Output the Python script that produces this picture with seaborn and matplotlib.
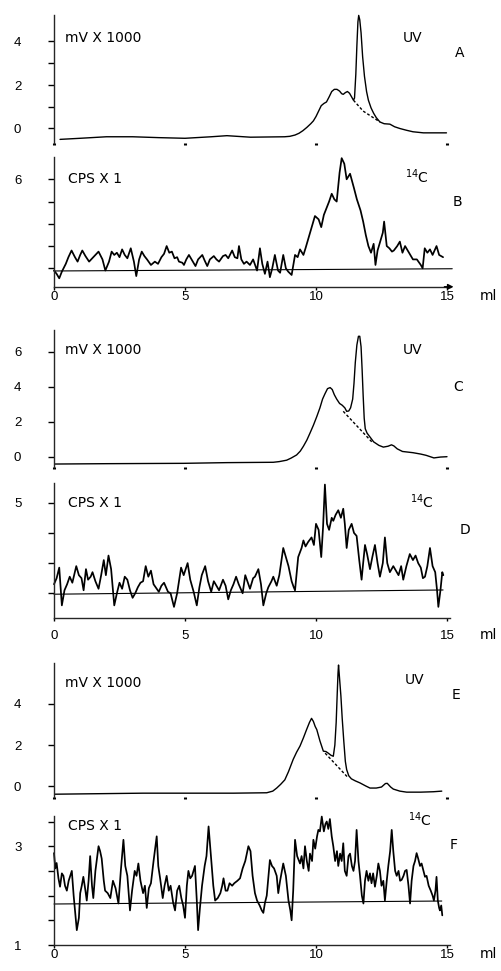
import numpy as np
import pandas as pd
import matplotlib
matplotlib.use("Agg")
import matplotlib.pyplot as plt
import seaborn as sns

sns.set_style("ticks")
plt.rcParams['font.family'] = ['Liberation Sans', 'DejaVu Sans']
plt.rcParams['mathtext.default'] = 'regular'

# ---------------- data (ml, signal) ----------------
# Panel A (UV, mV x 1000)
a_ml = [0.23, 1.0, 2.0, 3.0, 4.0, 5.0, 6.0, 6.6, 7.5, 8.8, 9.0, 9.2, 9.35, 9.5, 9.65, 9.8,
        9.9, 10.0, 10.1, 10.2, 10.3, 10.4, 10.5, 10.6, 10.7, 10.8, 10.9, 10.98, 11.04, 11.12,
        11.2, 11.28, 11.36, 11.43, 11.47, 11.52, 11.56, 11.6, 11.63, 11.67, 11.72, 11.78,
        11.85, 11.93, 12.0, 12.1, 12.2, 12.3, 12.44, 12.6, 12.82, 13.0, 13.2, 13.45, 13.7,
        14.1, 14.98]
a_v = [-0.5, -0.45, -0.38, -0.38, -0.42, -0.45, -0.38, -0.33, -0.4, -0.38, -0.36, -0.3,
       -0.22, -0.1, 0.05, 0.22, 0.35, 0.55, 0.8, 1.05, 1.15, 1.22, 1.45, 1.7, 1.8, 1.8, 1.72,
       1.6, 1.57, 1.65, 1.7, 1.62, 1.45, 1.3, 1.4, 2.5, 3.8, 4.9, 5.2, 5.0, 4.4, 3.3, 2.4,
       1.7, 1.3, 0.95, 0.7, 0.5, 0.3, 0.22, 0.2, 0.08, 0.0, -0.08, -0.15, -0.2, -0.2]
a_dash_ml = [11.43, 11.8, 12.44]
a_dash_v = [1.3, 0.8, 0.3]

# Panel B (14C, CPS x 1)
b_ml = [0.0, 0.1, 0.2, 0.3, 0.45, 0.55, 0.67, 0.8, 0.9, 1.0, 1.08, 1.2, 1.34, 1.5, 1.7, 1.85,
        1.96, 2.1, 2.2, 2.3, 2.4, 2.5, 2.6, 2.7, 2.8, 2.93, 3.05, 3.14, 3.25, 3.35, 3.45, 3.55,
        3.7, 3.85, 3.97, 4.1, 4.2, 4.3, 4.4, 4.5, 4.6, 4.7, 4.77, 4.9, 4.96, 5.05, 5.15, 5.3,
        5.4, 5.5, 5.66, 5.75, 5.85, 5.95, 6.1, 6.2, 6.3, 6.45, 6.55, 6.65, 6.8, 6.9, 7.0, 7.06,
        7.15, 7.25, 7.35, 7.48, 7.6, 7.75, 7.86, 7.95, 8.05, 8.15, 8.24, 8.33, 8.43, 8.55, 8.63,
        8.75, 8.85, 8.94, 9.07, 9.2, 9.3, 9.39, 9.52, 9.6, 9.7, 9.85, 9.96, 10.1, 10.2, 10.3,
        10.4, 10.5, 10.6, 10.7, 10.79, 10.9, 10.98, 11.08, 11.17, 11.3, 11.45, 11.56, 11.7,
        11.8, 11.9, 12.0, 12.1, 12.2, 12.27, 12.35, 12.45, 12.55, 12.6, 12.7, 12.8, 12.9,
        12.97, 13.1, 13.2, 13.3, 13.4, 13.5, 13.6, 13.7, 13.85, 14.0, 14.07, 14.15, 14.25,
        14.35, 14.45, 14.6, 14.7, 14.85]
b_v = [1.9, 1.75, 1.55, 1.85, 2.2, 2.5, 2.8, 2.5, 2.3, 2.6, 2.8, 2.55, 2.3, 2.5, 2.75, 2.4,
       1.9, 2.3, 2.75, 2.6, 2.7, 2.5, 2.85, 2.6, 2.45, 2.9, 2.3, 1.65, 2.4, 2.75, 2.55, 2.4,
       2.15, 2.3, 2.2, 2.5, 2.65, 3.0, 2.7, 2.75, 2.45, 2.5, 2.3, 2.25, 2.15, 2.4, 2.6, 2.3,
       2.1, 2.4, 2.6, 2.35, 2.1, 2.4, 2.55, 2.4, 2.3, 2.55, 2.6, 2.45, 2.8, 2.5, 2.45, 3.0,
       2.4, 2.2, 2.3, 2.15, 2.4, 1.9, 2.9, 2.2, 1.75, 2.3, 1.6, 2.0, 2.6, 1.9, 1.8,
       2.6, 2.0, 1.85, 1.7, 2.6, 2.5, 2.85, 2.6, 2.9, 3.3, 3.9, 4.35, 4.2, 3.85, 4.4,
       4.7, 5.0, 5.35, 5.1, 5.0, 6.3, 6.95, 6.7, 6.0, 6.25, 5.6, 5.1, 4.6,
       4.1, 3.5, 3.0, 2.7, 3.1, 2.15, 2.8, 3.2, 3.6, 4.1, 3.0, 2.9, 2.75,
       2.8, 3.0, 3.2, 2.7, 3.0, 2.8, 2.6, 2.4, 2.4, 2.15, 2.0, 2.9, 2.7,
       2.85, 2.6, 3.0, 2.6, 2.5]
b_base_ml = [0.0, 15.2]
b_base_v = [1.88, 1.98]

# Panel C (UV)
c_ml = [0.04, 2.0, 4.94, 6.6, 8.37, 8.6, 8.88, 9.05, 9.26, 9.4, 9.52, 9.65, 9.77, 9.9, 10.03,
        10.15, 10.25, 10.34, 10.44, 10.54, 10.62, 10.7, 10.79, 10.9, 11.0, 11.1, 11.17, 11.25,
        11.32, 11.4, 11.45, 11.5, 11.56, 11.62, 11.67, 11.72, 11.76, 11.8, 11.84, 11.88,
        11.95, 12.05, 12.2, 12.4, 12.57, 12.75, 12.88, 12.97, 13.1, 13.3, 13.7, 14.0, 14.2,
        14.5, 14.75, 15.0]
c_v = [-0.42, -0.4, -0.38, -0.34, -0.32, -0.28, -0.2, -0.08, 0.1, 0.32, 0.6, 0.95, 1.35,
       1.8, 2.3, 2.8, 3.3, 3.6, 3.9, 3.96, 3.85, 3.55, 3.3, 3.05, 2.95, 2.8, 2.6, 2.62,
       2.8, 3.3, 4.2, 5.4, 6.4, 6.9, 6.9, 6.3, 5.0, 3.5, 2.2, 1.6,
       1.35, 1.15, 0.85, 0.65, 0.55, 0.6, 0.68, 0.62, 0.45, 0.3, 0.23, 0.15, 0.08,
       -0.07, -0.02, 0.0]
c_dash_ml = [11.04, 12.13]
c_dash_v = [2.6, 0.85]

# Panel D (14C)
d_ml = [0.0, 0.1, 0.2, 0.3, 0.4, 0.5, 0.6, 0.7, 0.85, 0.95, 1.05, 1.13, 1.22, 1.3, 1.4, 1.47,
        1.58, 1.7, 1.8, 1.9, 1.98, 2.08, 2.18, 2.3, 2.4, 2.5, 2.6, 2.7, 2.8, 2.9, 3.0, 3.1,
        3.2, 3.3, 3.4, 3.5, 3.6, 3.7, 3.8, 3.92, 4.0, 4.1, 4.2, 4.35, 4.45, 4.58, 4.7, 4.85,
        4.95, 5.1, 5.2, 5.33, 5.45, 5.55, 5.64, 5.77, 5.88, 6.0, 6.1, 6.2, 6.3, 6.45, 6.55,
        6.65, 6.75, 6.85, 6.95, 7.05, 7.2, 7.3, 7.4, 7.48, 7.6, 7.67, 7.8, 7.9, 7.99, 8.1,
        8.18, 8.3, 8.37, 8.5, 8.6, 8.75, 8.85, 8.95, 9.07, 9.15, 9.2, 9.32, 9.45, 9.52, 9.6,
        9.7, 9.83, 9.92, 10.0, 10.1, 10.2, 10.27, 10.34, 10.42, 10.5, 10.6, 10.66, 10.75,
        10.85, 10.95, 11.04, 11.1, 11.17, 11.25, 11.36, 11.45, 11.55, 11.65, 11.74, 11.8,
        11.87, 11.95, 12.06, 12.15, 12.25, 12.35, 12.44, 12.55, 12.63, 12.72, 12.82, 12.95,
        13.05, 13.15, 13.25, 13.33, 13.45, 13.58, 13.7, 13.8, 13.9, 14.0, 14.08, 14.16,
        14.25, 14.35, 14.45, 14.55, 14.62, 14.67, 14.75, 14.82, 14.86]
d_v = [2.3, 2.5, 2.85, 1.6, 2.1, 2.3, 2.55, 2.35, 2.9, 2.6, 2.5, 2.1, 2.8, 2.45, 2.55, 2.7,
       2.4, 2.15, 2.6, 3.1, 2.6, 3.25, 2.8, 1.6, 2.0, 2.35, 2.15, 2.55, 2.45, 2.1, 1.85, 2.0,
       2.2, 2.35, 2.4, 2.9, 2.55, 2.75, 2.3, 2.15, 2.05, 2.25, 2.35, 2.05, 2.0, 1.55, 2.0, 2.85,
       2.6, 3.0, 2.45, 2.05, 1.6, 2.2, 2.6, 2.9, 2.4, 2.05, 2.4, 2.25, 2.1, 2.45, 2.25,
       1.8, 2.1, 2.3, 2.55, 2.3, 2.0, 2.6, 2.35, 2.15, 2.5, 2.55, 2.8, 2.3, 1.6, 2.0,
       2.2, 2.4, 2.55, 2.25, 2.6, 3.5, 3.2, 2.9, 2.4, 2.2, 2.1, 3.2, 3.5, 3.75, 3.55,
       3.7, 3.85, 3.6, 4.3, 4.1, 3.2, 4.2, 5.6, 4.3, 4.1, 4.5, 4.4, 4.6,
       4.75, 4.5, 4.8, 4.3, 3.5, 4.1, 4.3, 4.0, 3.9, 3.1, 2.45, 3.0,
       3.6, 3.3, 2.8, 3.2, 3.6, 3.0, 2.55, 3.0, 3.85, 3.0, 2.7, 2.9,
       2.75, 2.6, 2.9, 2.45, 2.9, 3.3, 3.1, 3.25, 3.0, 2.85, 2.5, 2.55,
       2.9, 3.5, 2.9, 2.7, 2.1, 1.55, 2.1, 2.7, 2.6]
d_base_ml = [0.0, 14.85]
d_base_v = [1.97, 2.11]

# Panel E (UV)
e_ml = [0.04, 3.4, 6.85, 8.12, 8.35, 8.5, 8.65, 8.81, 8.95, 9.13, 9.26, 9.39, 9.52, 9.64,
        9.75, 9.83, 9.9, 9.97, 10.03, 10.15, 10.28, 10.38, 10.47, 10.57, 10.66, 10.72, 10.77,
        10.81, 10.84, 10.86, 10.89, 10.95, 11.0, 11.06, 11.12, 11.17, 11.25, 11.35, 11.5,
        11.68, 11.9, 12.06, 12.3, 12.5, 12.65, 12.72, 12.85, 12.95, 13.2, 13.46, 14.0, 14.48,
        14.8]
e_v = [-0.4, -0.35, -0.35, -0.33, -0.25, -0.1, 0.08, 0.3, 0.7, 1.3, 1.65, 1.95, 2.35, 2.75,
       3.1, 3.3, 3.15, 2.9, 2.75, 2.2, 1.7, 1.68, 1.6, 1.5, 1.45, 2.0, 3.1,
       4.5, 5.5, 5.9, 5.4, 4.4, 3.3, 2.2, 1.2, 0.8, 0.5, 0.35, 0.25,
       0.15, 0.0, -0.1, -0.1, -0.05, 0.12, 0.13, -0.05, -0.15, -0.25, -0.3, -0.3, -0.28,
       -0.25]
e_dash_ml = [10.35, 11.23]
e_dash_v = [1.6, 0.4]

# Panel F (14C)
f_ml = [0.0, 0.05, 0.1, 0.17, 0.23, 0.3, 0.36, 0.42, 0.49, 0.56, 0.62, 0.68, 0.75, 0.82, 0.87,
        0.95, 1.0, 1.06, 1.12, 1.2, 1.25, 1.32, 1.38, 1.45, 1.5, 1.58, 1.7, 1.76, 1.82, 1.9,
        1.95, 2.05, 2.15, 2.25, 2.35, 2.46, 2.55, 2.65, 2.72, 2.8, 2.9, 2.98, 3.08, 3.15, 3.22,
        3.3, 3.4, 3.47, 3.54, 3.62, 3.7, 3.8, 3.92, 3.98, 4.05, 4.15, 4.22, 4.3, 4.38, 4.45,
        4.55, 4.62, 4.7, 4.78, 4.86, 4.93, 5.0, 5.07, 5.13, 5.2, 5.27, 5.38, 5.45, 5.5, 5.57,
        5.65, 5.75, 5.82, 5.9, 6.0, 6.08, 6.15, 6.25, 6.35, 6.42, 6.47, 6.55, 6.62, 6.7, 6.8,
        6.88, 7.0, 7.1, 7.2, 7.3, 7.42, 7.5, 7.58, 7.67, 7.75, 7.85, 7.93, 7.99, 8.05, 8.12,
        8.24, 8.32, 8.4, 8.5, 8.56, 8.63, 8.75, 8.85, 8.95, 9.02, 9.07, 9.13, 9.2, 9.28, 9.39,
        9.45, 9.52, 9.58, 9.65, 9.72, 9.77, 9.85, 9.9, 9.97, 10.04, 10.09, 10.15, 10.22, 10.3,
        10.36, 10.41, 10.47, 10.53, 10.6, 10.66, 10.73, 10.8, 10.85, 10.92, 10.98, 11.04, 11.1,
        11.17, 11.24, 11.3, 11.37, 11.43, 11.49, 11.55, 11.62, 11.68, 11.75, 11.81, 11.87,
        11.93, 12.0, 12.06, 12.12, 12.18, 12.25, 12.32, 12.38, 12.44, 12.5, 12.57, 12.63, 12.7,
        12.76, 12.83, 12.89, 12.95, 13.02, 13.08, 13.15, 13.21, 13.27, 13.34, 13.4, 13.46,
        13.53, 13.59, 13.65, 13.72, 13.78, 13.84, 13.9, 13.97, 14.03, 14.1, 14.16, 14.22, 14.3,
        14.38, 14.45, 14.5, 14.56, 14.6, 14.65, 14.7, 14.73, 14.78, 14.82]
f_v = [2.86, 2.55, 2.66, 2.35, 2.18, 2.45, 2.4, 2.2, 2.1, 2.3, 2.4, 2.5, 2.0, 1.6, 1.3,
       1.55, 2.05, 2.2, 2.38, 2.1, 1.9, 2.3, 2.8, 2.2, 1.95, 2.5, 3.0, 2.9, 2.75, 2.3,
       2.1, 2.05, 1.95, 2.3, 2.15, 1.84, 2.5, 3.13, 2.6, 2.4, 1.7, 2.1, 2.5, 2.4, 2.65,
       2.3, 2.05, 2.2, 1.75, 2.15, 2.25, 2.7, 3.2, 2.6, 2.35, 1.95, 2.2, 2.4, 2.1, 2.2,
       1.85, 1.7, 2.1, 2.2, 1.95, 1.8, 1.55, 2.2, 2.5, 2.35, 2.4, 2.6, 1.9, 1.3, 1.75,
       2.2, 2.6, 2.8, 3.4, 2.72, 2.2, 1.9, 1.95, 2.05, 2.2, 2.35, 2.1, 2.1, 2.25, 2.2,
       2.25, 2.3, 2.35, 2.55, 2.7, 3.0, 2.9, 2.4, 2.05, 1.9, 1.8, 1.7, 1.65, 1.85, 2.0,
       2.72, 2.6, 2.55, 2.4, 2.05, 2.3, 2.65, 2.4, 1.9, 1.7, 1.5, 2.1, 3.13, 2.8, 2.65,
       2.8, 2.55, 3.0, 2.7, 2.5, 2.85, 2.7, 3.13, 2.95, 3.2, 3.33, 3.3, 3.6, 3.3,
       3.45, 3.5, 3.35, 3.55, 3.2, 3.0, 2.7, 2.9, 2.6, 2.85, 2.7, 3.06, 2.5,
       2.4, 2.8, 2.85, 2.6, 2.5, 2.7, 3.33, 2.7, 2.4, 2.0, 1.84, 2.3,
       2.5, 2.3, 2.45, 2.25, 2.45, 2.18, 2.4, 2.65, 2.5, 2.2, 2.3, 1.9, 2.3,
       2.6, 2.9, 3.33, 2.9, 2.5, 2.4, 2.5, 2.3, 2.32, 2.4, 2.5, 2.52,
       2.2, 1.84, 2.3, 2.6, 2.7, 2.86, 2.75, 2.6, 2.65, 2.5, 2.38, 2.4, 2.2,
       2.1, 2.0, 1.9, 2.1, 2.38, 1.9, 1.75, 1.7, 1.8, 1.6]
f_base_ml = [0.0, 14.8]
f_base_v = [1.83, 1.89]

x_ticks = [0, 5, 10, 15]
x_tick_labels = ['0', '5', '10', '15']

# ---------------- layout helpers ----------------
W, H = 501, 971
fig = plt.figure(figsize=(W / 100, H / 100), dpi=100)
X0, PXML, XMAX = 54, 26.2, 15.6
FS = 9.5
LABEL_FONT = ['DejaVu Sans']
LFS = 10


def make_ax(v0, p0, px_per, ymin, ymax):
    top = p0 - (ymax - v0) * px_per
    bot = p0 - (ymin - v0) * px_per
    ax = fig.add_axes([X0 / W, 1 - bot / H, XMAX * PXML / W, (bot - top) / H])
    ax.set_xlim(0, XMAX)
    ax.set_ylim(ymin, ymax)
    ax.patch.set_alpha(0)
    for s in ['top', 'right']:
        ax.spines[s].set_visible(False)
    ax.spines['left'].set_linewidth(1.0)
    ax.spines['bottom'].set_linewidth(1.0)
    ax.tick_params(axis='y', direction='out', length=4, width=1.0, pad=19.5,
                   labelsize=FS, colors='black')
    return ax


def trace(ax, xs, ys, lw=1.0, ls='-'):
    df = pd.DataFrame({'ml': xs, 'v': ys})
    sns.lineplot(data=df, x='ml', y='v', ax=ax, color='black', lw=lw, sort=False,
                 estimator=None, linestyle=ls, clip_on=False)
    ax.set_xlabel('')
    ax.set_ylabel('')


def uv_axes(ax):
    ax.spines['bottom'].set_visible(False)
    ax.set_xticks(x_ticks)
    ax.tick_params(axis='x', direction='out', length=1.2, width=2.2, labelbottom=False,
                   colors='black')


def cps_axes(ax, pad):
    ax.spines['bottom'].set_bounds(0, 15.1)
    ax.set_xticks(x_ticks)
    ax.set_xticklabels(x_tick_labels)
    ax.tick_params(axis='x', direction='out', length=2.5, width=1.0, pad=pad,
                   labelsize=FS, colors='black')


def ftext(px, py, s, ha='left', fs=LFS):
    fig.text(px / W, 1 - py / H, s, ha=ha, va='center', fontsize=fs, color='black',
             family=LABEL_FONT)


# ---------------- Panel A ----------------
axA = make_ax(0, 128.5, 21.75, -0.67, 5.2)
trace(axA, a_ml, a_v, lw=1.0)
trace(axA, a_dash_ml, a_dash_v, lw=1.0, ls=(0, (2, 1.5)))
axA.set_yticks([0, 1, 2, 3, 4])
axA.set_yticklabels(['0', '', '2', '', '4'])
uv_axes(axA)

# ---------------- Panel B ----------------
axB = make_ax(2, 268.3, 22.25, 1.17, 7.0)
trace(axB, b_ml, b_v, lw=1.25)
trace(axB, b_base_ml, b_base_v, lw=0.8)
axB.set_yticks([2, 3, 4, 5, 6])
axB.set_yticklabels(['', '', '', '', '6'])
cps_axes(axB, 0.5)
axB.annotate('', xy=(15.25, 1.17), xytext=(14.9, 1.17), annotation_clip=False,
             arrowprops=dict(arrowstyle='-|>', color='black', lw=1.0,
                             mutation_scale=8, shrinkA=0, shrinkB=0))

# ---------------- Panel C ----------------
axC = make_ax(0, 456.7, 17.45, -0.59, 7.26)
trace(axC, c_ml, c_v, lw=1.0)
trace(axC, c_dash_ml, c_dash_v, lw=1.0, ls=(0, (2, 1.5)))
axC.set_yticks([0, 2, 4, 6])
axC.set_yticklabels(['0', '2', '4', '6'])
uv_axes(axC)

# ---------------- Panel D ----------------
axD = make_ax(2, 593.3, 30.2, 1.17, 5.64)
trace(axD, d_ml, d_v, lw=1.25)
trace(axD, d_base_ml, d_base_v, lw=0.8)
axD.set_yticks([2, 3, 4, 5])
axD.set_yticklabels(['', '', '', '5'])
cps_axes(axD, 6)

# ---------------- Panel E ----------------
axE = make_ax(0, 786, 20.5, -0.54, 6.0)
trace(axE, e_ml, e_v, lw=1.0)
trace(axE, e_dash_ml, e_dash_v, lw=1.0, ls=(0, (2, 1.5)))
axE.set_yticks([0, 2, 4])
axE.set_yticklabels(['0', '2', '4'])
uv_axes(axE)

# ---------------- Panel F ----------------
axF = make_ax(1, 945, 49.4, 1.0, 3.61)
trace(axF, f_ml, f_v, lw=1.25)
trace(axF, f_base_ml, f_base_v, lw=0.8)
axF.set_yticks([1, 1.5, 2, 2.5, 3, 3.5])
axF.set_yticklabels(['1', '', '', '', '3', ''])
cps_axes(axF, 0.5)

# ---------------- texts ----------------
for py in (38, 350, 683):
    ftext(65, py, 'mV X 1000')
for px, py in ((403, 38), (403, 350), (405, 680)):
    ftext(px, py, 'UV')
for px, py in ((405, 177), (410, 502), (408, 820)):
    ftext(px, py, r'$^{14}$C')
for py in (179, 503, 826):
    ftext(68, py, 'CPS X 1')
for px, py, s in ((455, 53, 'A'), (453, 202, 'B'), (453, 387, 'C'), (460, 530, 'D'),
                  (452, 695, 'E'), (450, 845, 'F')):
    ftext(px, py, s)
for py in (296, 635, 954):
    ftext(488, py, 'ml', ha='center')

fig.savefig('out.png', dpi=100)
